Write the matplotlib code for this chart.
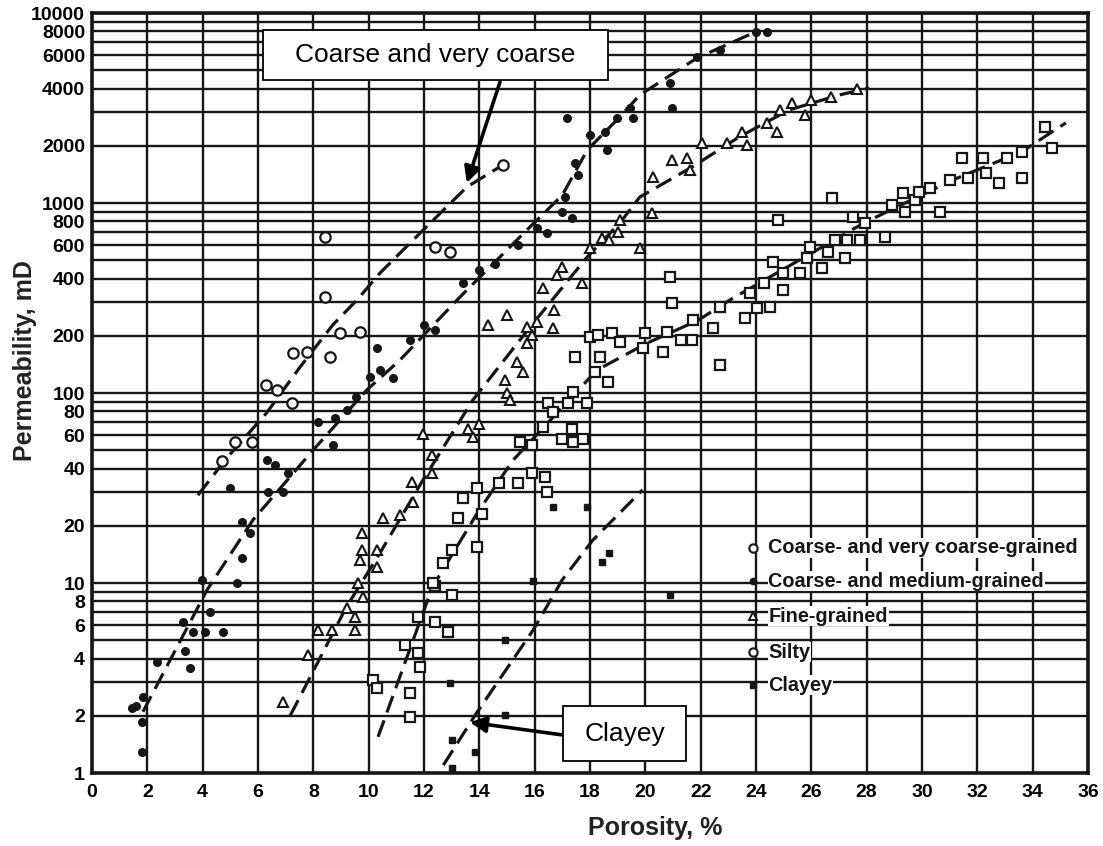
import numpy as np
import matplotlib
matplotlib.use('Agg')
import matplotlib.pyplot as plt
from matplotlib.patches import Rectangle
from matplotlib.ticker import FixedLocator, NullLocator

# porosity (%) / permeability (mD)

# coarse- and very coarse-grained (open circles)
cvc_x = [4.69, 5.17, 5.77, 6.3, 6.7, 7.22, 7.27, 7.77, 8.6, 8.96, 9.69, 8.42, 8.42, 12.4, 12.94, 14.85]
cvc_y = [44, 55, 55, 110, 104, 89, 163, 165, 155, 207, 210, 320, 662, 588, 550, 1585]

# coarse- and medium-grained (dots)
cm_x = [1.44, 1.6, 1.85, 1.8, 1.8, 2.35, 3.3, 3.66, 3.36, 3.54, 4.08, 4.26, 4.73, 3.97, 5.24,
        5.42, 5.42, 5.71, 4.99, 6.32, 6.61, 6.36, 6.9, 7.1, 8.17, 8.7, 8.78, 9.2, 9.56, 10.3,
        10.05, 10.41, 10.88, 11.5, 12.0, 12.4, 13.4, 14.0, 14.56, 15.4, 16.08, 16.44, 16.99,
        17.1, 17.35, 17.17, 17.46, 17.56, 18.0, 18.6, 18.54, 18.97, 19.55, 19.44, 20.96, 20.9,
        21.86, 22.7, 24.0, 24.4]
cm_y = [2.2, 2.25, 2.5, 1.85, 1.29, 3.84, 6.2, 5.5, 4.4, 3.56, 5.5, 7.0, 5.5, 10.4, 10,
        13.5, 21, 18.3, 31.6, 44.4, 42, 30, 30, 38, 70, 53, 74, 81, 95, 173,
        121, 132, 120, 190, 228, 215, 380, 444, 480, 600, 740, 695, 895,
        1070, 832, 2800, 1620, 1400, 2280, 1900, 2350, 2800, 2800, 3160, 3160, 4270,
        5850, 6380, 7940, 7940]

# fine-grained (triangles)
fg_x = [6.9, 7.81, 8.17, 8.67, 9.2, 9.5, 9.5, 9.8, 9.6, 9.69, 9.76, 9.76, 10.3, 10.3, 10.52,
        11.13, 11.6, 11.56, 12.3, 11.96, 12.3, 13.6, 13.77, 14.0, 14.99, 15.1, 14.93, 15.36,
        15.57, 15.72, 15.9, 15.72, 15.0, 14.3, 16.1, 16.67, 16.7, 16.3, 17.0, 16.8, 17.7, 18.0,
        18.43, 18.7, 19.08, 19.0, 19.8, 20.24, 20.28, 20.96, 21.5, 21.6, 22.05, 22.95, 23.67,
        23.5, 24.4, 24.76, 25.77, 25.3, 26.0, 26.7, 27.65, 24.86]
fg_y = [2.37, 4.2, 5.66, 5.66, 7.4, 6.6, 5.66, 8.4, 10, 13.2, 15, 18.3, 14.9, 12.2, 22,
        22.8, 26.7, 34, 38, 61, 47, 65, 59, 69, 100, 92, 117, 145,
        129, 183, 201, 222, 258, 228, 236, 219, 273, 357, 459, 418, 380, 578,
        655, 640, 815, 700, 578, 886, 1370, 1680, 1725, 1490, 2070, 2070, 2020,
        2350, 2640, 2350, 2900, 3360, 3470, 3610, 4000, 3090]

# silty (open squares)
st_x = [10.16, 10.3, 11.5, 11.5, 11.3, 11.8, 11.85, 11.8, 12.4, 12.87, 12.4, 13.0, 12.33, 12.7,
        13.0, 13.9, 13.24, 14.1, 13.4, 13.9, 14.7, 15.4, 15.9, 16.37, 16.44, 15.47, 15.9, 16.3,
        16.99, 17.4, 17.35, 17.75, 16.48, 16.66, 17.2, 17.4, 17.9, 17.46, 18.36, 18.18, 18.65,
        18.0, 18.29, 18.8, 19.08, 19.99, 19.92, 20.64, 20.8, 21.3, 21.7, 21.72, 22.44, 22.7,
        22.7, 23.6, 24.03, 24.5, 20.9, 20.96, 23.8, 24.8, 24.6, 24.3, 24.97, 24.97, 25.6, 25.84,
        25.95, 26.4, 26.6, 26.85, 27.2, 27.3, 27.76, 26.74, 27.5, 27.94, 28.66, 28.9, 29.4,
        29.3, 29.75, 29.9, 30.3, 30.65, 31.0, 31.66, 32.3, 31.45, 32.2, 32.8, 33.07, 33.6,
        33.6, 34.7, 34.44]
st_y = [3.1, 2.8, 2.64, 1.97, 4.7, 4.3, 3.6, 6.6, 6.2, 5.5, 9.7, 8.6, 10, 12.7,
        15, 15.5, 22, 23, 28, 31.6, 33.6, 33.6, 38, 36, 30, 55, 53, 66,
        57, 55, 65, 57, 89, 79, 89, 101, 89, 155, 155, 129, 114,
        197, 202, 207, 185, 207, 173, 164, 209, 190, 190, 242, 219, 283,
        140, 248, 280, 283, 406, 297, 336, 813, 490, 380, 427, 348, 427, 513,
        588, 455, 550, 638, 513, 638, 638, 1065, 845, 785, 662, 975, 896,
        1130, 1037, 1140, 1200, 896, 1320, 1350, 1440, 1725, 1725, 1275, 1725, 1860,
        1350, 1950, 2510]

# clayey (small filled squares)
cl_x = [12.94, 14.93, 14.93, 13.0, 13.84, 13.0, 15.94, 16.66, 17.9, 18.43, 18.7, 20.9]
cl_y = [2.98, 5.0, 2.02, 1.49, 1.29, 1.06, 10.2, 25, 25, 12.9, 14.4, 8.6]

# dashed trend lines drawn on the original
c1_x = [3.83, 4.87, 6.31, 7.52, 8.7, 9.58, 10.41, 11.86, 13.55, 14.85]
c1_y = [29, 45.5, 78.5, 137, 228, 309, 428, 695, 1214, 1585]
c2_x = [1.84, 4.16, 5.82, 7.99, 9.94, 11.13, 13.3, 15.72, 17.0, 17.9, 18.97, 19.8, 21.87, 23.9]
c2_y = [2.1, 9.2, 21.5, 50, 104, 149, 320, 721, 1100, 1900, 2735, 3700, 5800, 7850]
c3_x = [7.16, 9.2, 10.41, 11.96, 13.77, 15.83, 17.9, 19.08, 19.8, 21.7, 23.4, 25.2, 27.0, 28.1]
c3_y = [2.0, 7.5, 14.4, 34.8, 92, 222, 520, 785, 1075, 1550, 2230, 3090, 3700, 4030]
c4_x = [10.34, 12.3, 13.9, 15.2, 18.25, 20.06, 21.9, 23.06, 27.9, 31.1, 33.6, 35.2]
c4_y = [1.55, 9.5, 23, 44, 132, 183, 241, 309, 785, 1320, 1860, 2640]
c5_x = [12.7, 13.9, 15.94, 17.0, 18.1, 19.9]
c5_y = [1.1, 2.07, 5.64, 10.4, 16.8, 30.9]

y_lines = [k * 10 ** d for d in range(4) for k in range(1, 10)] + [10000]
y_labeled = [1, 2, 4, 6, 8]

legend_labels = ['Coarse- and very coarse-grained', 'Coarse- and medium-grained',
                 'Fine-grained', 'Silty', 'Clayey']

fig = plt.figure(figsize=(11.03, 8.46), dpi=100)
ax = fig.add_axes([92 / 1103, 73 / 846, 996 / 1103, 760 / 846])
ax.set_yscale('log')
ax.set_xlim(0, 36)
ax.set_ylim(1, 10000)

ink = '#161616'
ax.xaxis.set_major_locator(FixedLocator(range(0, 37, 2)))
ax.yaxis.set_major_locator(FixedLocator(y_lines))
ax.yaxis.set_minor_locator(NullLocator())
ax.set_yticklabels([str(int(v)) if int(str(int(v))[0]) in y_labeled else '' for v in y_lines])
ax.grid(True, which='major', color=ink, lw=1.7)
ax.tick_params(length=0, labelsize=14, pad=5)
ax.tick_params(axis='x', pad=8)
for lab in ax.get_xticklabels() + ax.get_yticklabels():
    lab.set_fontweight('bold')
    lab.set_family(['Liberation Sans', 'DejaVu Sans'])
for s in ax.spines.values():
    s.set_linewidth(2.6)
    s.set_color(ink)

dash = (0, (5.5, 2.6))
for cx, cy in [(c1_x, c1_y), (c2_x, c2_y), (c3_x, c3_y), (c4_x, c4_y), (c5_x, c5_y)]:
    ax.plot(cx, cy, color=ink, lw=2.3, ls=dash, zorder=3)

mk = dict(ls='none', color=ink, zorder=4)
ax.plot(cvc_x, cvc_y, marker='o', ms=7.5, mfc='white', mew=1.6, **mk)
ax.plot(cm_x, cm_y, marker='o', ms=5.5, **mk)
ax.plot(fg_x, fg_y, marker='^', ms=7.5, mfc='white', mew=1.5, **mk)
ax.plot(st_x, st_y, marker='s', ms=6.5, mfc='white', mew=1.6, **mk)
ax.plot(cl_x, cl_y, marker='s', ms=5, **mk)

# legend written onto the grid, as in the scan
leg_y = [15.3, 10.2, 6.7, 4.33, 2.9]
leg_mk = [dict(marker='o', ms=6, mfc='white', mew=1.5),
          dict(marker='o', ms=4.5),
          dict(marker='^', ms=6, mfc='white', mew=1.4),
          dict(marker='o', ms=6, mfc='white', mew=1.5),
          dict(marker='s', ms=4)]
for lab, ly, m in zip(legend_labels, leg_y, leg_mk):
    ax.plot([23.9], [ly], ls='none', color=ink, zorder=5, **m)
    ax.text(24.45, ly, lab, va='center', ha='left', fontsize=14.3, fontweight='bold',
            family=['Liberation Sans', 'DejaVu Sans'], color=ink, zorder=5,
            bbox=dict(facecolor='white', edgecolor='none', pad=0.5))

# callout boxes
box1 = Rectangle((263 / 1103, 1 - 80 / 846), 345 / 1103, 50 / 846, transform=fig.transFigure,
                 facecolor='white', edgecolor='black', lw=1.3, zorder=10)
fig.patches.append(box1)
fig.text(435.5 / 1103, 1 - 55 / 846, 'Coarse and very coarse', ha='center', va='center',
         fontsize=19, family=['Liberation Sans', 'DejaVu Sans'], zorder=11)
ax.annotate('', xy=(13.55, 1274), xycoords='data', xytext=(500 / 1103, 1 - 82 / 846),
            textcoords='figure fraction',
            arrowprops=dict(arrowstyle='-|>', color='black', lw=2.6, mutation_scale=24,
                            shrinkA=0, shrinkB=0), zorder=9)

box2 = Rectangle((563 / 1103, 1 - 761 / 846), 123 / 1103, 55 / 846, transform=fig.transFigure,
                 facecolor='white', edgecolor='black', lw=1.3, zorder=10)
fig.patches.append(box2)
fig.text(624.5 / 1103, 1 - 733.5 / 846, 'Clayey', ha='center', va='center',
         fontsize=19, family=['Liberation Sans', 'DejaVu Sans'], zorder=11)
ax.annotate('', xy=(13.66, 1.85), xycoords='data', xytext=(563 / 1103, 1 - 735 / 846),
            textcoords='figure fraction',
            arrowprops=dict(arrowstyle='-|>', color='black', lw=2.6, mutation_scale=24,
                            shrinkA=0, shrinkB=0), zorder=9)

fig.text(25 / 1103, 1 - 361 / 846, 'Permeability, mD', rotation=90, ha='center', va='center',
         fontsize=18, fontweight='bold', family=['Liberation Sans', 'DejaVu Sans'], color='#222222')
fig.text(655 / 1103, 1 - 828 / 846, 'Porosity, %', ha='center', va='center',
         fontsize=18, fontweight='bold', family=['Liberation Sans', 'DejaVu Sans'], color='#222222')

fig.savefig('out.png', dpi=100)
